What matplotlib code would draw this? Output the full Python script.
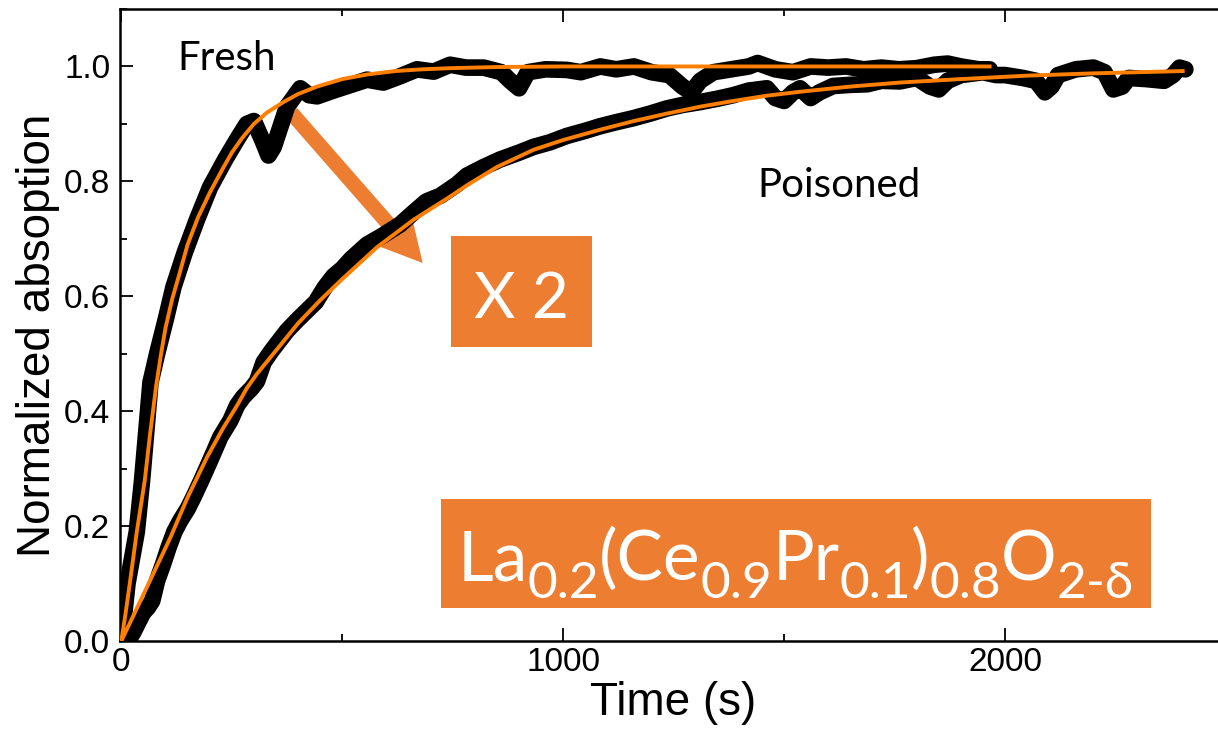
import matplotlib
matplotlib.use('Agg')
import matplotlib.pyplot as plt
from matplotlib.patches import Rectangle, FancyArrowPatch
from matplotlib.ticker import MultipleLocator
from matplotlib.transforms import IdentityTransform

fresh_t = [0, 14, 35, 47, 66, 81, 100, 118, 143, 171, 201, 235, 262, 284, 300,
           320, 333, 345, 360, 375, 405, 425, 443, 480, 520, 556, 593, 631, 669,
           707, 744, 780, 820, 860, 880, 900, 920, 960, 1008, 1040, 1084, 1120,
           1160, 1200, 1240, 1270, 1290, 1310, 1340, 1380, 1420, 1440, 1480,
           1520, 1560, 1600, 1640, 1680, 1720, 1760, 1800, 1840, 1870, 1900,
           1940, 1965]
fresh_y = [0.0, 0.10, 0.19, 0.28, 0.45, 0.50, 0.558, 0.616, 0.675, 0.733, 0.79,
           0.838, 0.873, 0.90, 0.905, 0.87, 0.845, 0.86, 0.895, 0.93, 0.962,
           0.95, 0.948, 0.958, 0.968, 0.977, 0.972, 0.983, 0.995, 0.991, 1.003,
           0.998, 0.998, 0.99, 0.975, 0.962, 0.99, 0.995, 0.994, 0.99, 1.0,
           0.995, 1.0, 0.99, 0.985, 0.965, 0.955, 0.975, 0.99, 0.995, 1.0,
           1.006, 0.995, 0.99, 1.0, 0.998, 1.0, 0.995, 0.998, 0.995, 0.997,
           1.003, 1.005, 1.0, 0.995, 0.995]

# Fresh sample: fitted curve
fresh_fit_t = [0, 10, 20, 35, 53, 65, 79, 90, 100, 115, 130, 150, 174, 200, 228,
               250, 273, 300, 330, 367, 400, 443, 500, 556, 620, 680, 744, 850,
               1000, 1200, 1500, 1965]
fresh_fit_y = [0, 0.05, 0.105, 0.19, 0.279, 0.36, 0.445, 0.50, 0.545, 0.595,
               0.635, 0.69, 0.738, 0.78, 0.82, 0.85, 0.875, 0.9, 0.92, 0.938,
               0.952, 0.965, 0.978, 0.986, 0.992, 0.995, 0.997, 0.999, 1.0, 1.0,
               1.0, 1.0]

# Poisoned sample: measured curve
poisoned_t = [0, 15, 27, 40, 50, 60, 70, 81, 95, 107, 120, 133, 150, 163, 180,
              194, 210, 224, 247, 262, 276, 295, 307, 322, 340, 360, 375, 400,
              420, 440, 460, 480, 500, 520, 556, 590, 631, 660, 690, 722, 760,
              782, 820, 857, 900, 933, 970, 1008, 1050, 1084, 1120, 1159, 1197,
              1235, 1270, 1310, 1350, 1385, 1420, 1461, 1480, 1500, 1520, 1536,
              1560, 1580, 1611, 1650, 1688, 1720, 1762, 1800, 1830, 1850, 1870,
              1900, 1950, 1980, 2000, 2040, 2070, 2090, 2105, 2120, 2160, 2200,
              2225, 2245, 2265, 2280, 2320, 2360, 2380, 2395, 2408]
poisoned_y = [0.0, 0.0, 0.015, 0.035, 0.05, 0.058, 0.07, 0.105, 0.135, 0.163,
              0.19, 0.209, 0.23, 0.25, 0.278, 0.302, 0.33, 0.355, 0.384, 0.41,
              0.425, 0.44, 0.452, 0.485, 0.505, 0.525, 0.54, 0.56, 0.575, 0.59,
              0.615, 0.635, 0.648, 0.665, 0.69, 0.705, 0.725, 0.745, 0.765,
              0.775, 0.795, 0.81, 0.825, 0.838, 0.85, 0.86, 0.868, 0.879, 0.888,
              0.896, 0.903, 0.91, 0.918, 0.927, 0.933, 0.938, 0.944, 0.95,
              0.958, 0.962, 0.945, 0.94, 0.955, 0.962, 0.945, 0.955, 0.966,
              0.968, 0.969, 0.975, 0.974, 0.98, 0.965, 0.96, 0.975, 0.985, 0.99,
              0.985, 0.985, 0.98, 0.975, 0.955, 0.965, 0.985, 0.995, 0.998, 0.99,
              0.96, 0.965, 0.98, 0.978, 0.975, 0.985, 0.998, 0.995]

# Poisoned sample: fitted curve
poisoned_fit_t = [0, 47, 111, 150, 194, 230, 262, 284, 307, 360, 400, 450, 500,
                  578, 661, 737, 782, 850, 933, 1000, 1084, 1160, 1235, 1310,
                  1385, 1460, 1536, 1650, 1762, 1900, 2050, 2200, 2402]
poisoned_fit_y = [0, 0.076, 0.18, 0.25, 0.32, 0.37, 0.41, 0.44, 0.465, 0.515,
                  0.553, 0.593, 0.63, 0.685, 0.733, 0.77, 0.793, 0.825, 0.855,
                  0.872, 0.89, 0.905, 0.918, 0.93, 0.94, 0.949, 0.956, 0.965,
                  0.972, 0.978, 0.984, 0.988, 0.992]

x_ticks = [0, 1000, 2000]
y_ticks = [0.0, 0.2, 0.4, 0.6, 0.8, 1.0]

# chemical formula pieces: (text, is_subscript)
formula = [('La', False), ('0.2', True), ('(Ce', False), ('0.9', True),
           ('Pr', False), ('0.1', True), (')', False), ('0.8', True),
           ('O', False), ('2-δ', True)]

box_color = '#ED7D31'
fit_color = '#FF7F00'

plt.rcParams['font.family'] = ['Liberation Sans', 'DejaVu Sans']

fig = plt.figure(figsize=(12.18, 7.34), dpi=100)
ax = fig.add_axes([120 / 1218, 93 / 734, 1106 / 1218, 632 / 734])

# measured data (thick black) and fits (orange)
ax.plot(fresh_t, fresh_y, color='black', lw=12, solid_joinstyle='round',
        solid_capstyle='round', zorder=2)
ax.plot(poisoned_t, poisoned_y, color='black', lw=12, solid_joinstyle='round',
        solid_capstyle='round', zorder=2)
ax.plot(fresh_fit_t, fresh_fit_y, color=fit_color, lw=2.8, zorder=3)
ax.plot(poisoned_fit_t, poisoned_fit_y, color=fit_color, lw=2.8, zorder=3)

ax.set_xlim(-3, 2500)
ax.set_ylim(0, 1.1)
ax.set_xticks(x_ticks)
ax.set_yticks(y_ticks)
ax.set_yticklabels([f'{v:.1f}' for v in y_ticks])
ax.xaxis.set_minor_locator(MultipleLocator(500))
ax.yaxis.set_minor_locator(MultipleLocator(0.1))
ax.tick_params(which='both', direction='in', top=True, right=False, width=1.3)
ax.tick_params(which='major', length=9.5)
ax.tick_params(which='minor', length=5)
ax.tick_params(axis='x', labelsize=24, pad=4.5)
ax.tick_params(axis='y', labelsize=24, pad=7)
ax.spines['right'].set_visible(False)
for s in ['left', 'bottom', 'top']:
    ax.spines[s].set_linewidth(1.8)

ax.set_xlabel('Time (s)', fontsize=33)
ax.set_ylabel('Normalized absoption', fontsize=33)
ax.xaxis.set_label_coords(0.5, -0.063)
ax.yaxis.set_label_coords(-0.054, 0.483)

# labels on curves
ax.text(126, 0.993, 'Fresh', family='Lato', fontsize=29, va='baseline')
ax.text(1439, 0.773, 'Poisoned', family='Lato', fontsize=29, va='baseline')

# arrow from fresh to poisoned
arrow = FancyArrowPatch((385, 0.919), (682, 0.658),
                        arrowstyle='simple,head_length=32,head_width=34,tail_width=10.8',
                        mutation_scale=1, color=box_color, lw=0,
                        shrinkA=0, shrinkB=0, zorder=1)
ax.add_patch(arrow)

# "X 2" box
ax.add_patch(Rectangle((746, 0.512), 319, 0.193, color=box_color, lw=0, zorder=4))
ax.text(906, 0.562, 'X 2', family='Lato', fontsize=46, color='white',
        ha='center', va='baseline', zorder=5)

# composition box
ax.add_patch(Rectangle((723, 0.0574), 1607, 0.19, color=box_color, lw=0, zorder=4))

# formula laid out piece by piece (pixel coordinates), centred in the box
renderer = fig.canvas.get_renderer()
pieces = []
for s, sub in formula:
    t = fig.text(0, 0, s, family=['Lato', 'DejaVu Sans'], color='white',
                 fontsize=37 if sub else 50, va='baseline', ha='left',
                 transform=IdentityTransform(), zorder=5)
    w = t.get_window_extent(renderer).width
    pieces.append((t, w, sub))
total = sum(w for _, w, _ in pieces)
cx, base_y = ax.transData.transform((1526, 0.106))
x = cx - total / 2
for t, w, sub in pieces:
    t.set_position((x, base_y - (18 if sub else 0)))
    x += w

fig.savefig('out.png', dpi=100)
